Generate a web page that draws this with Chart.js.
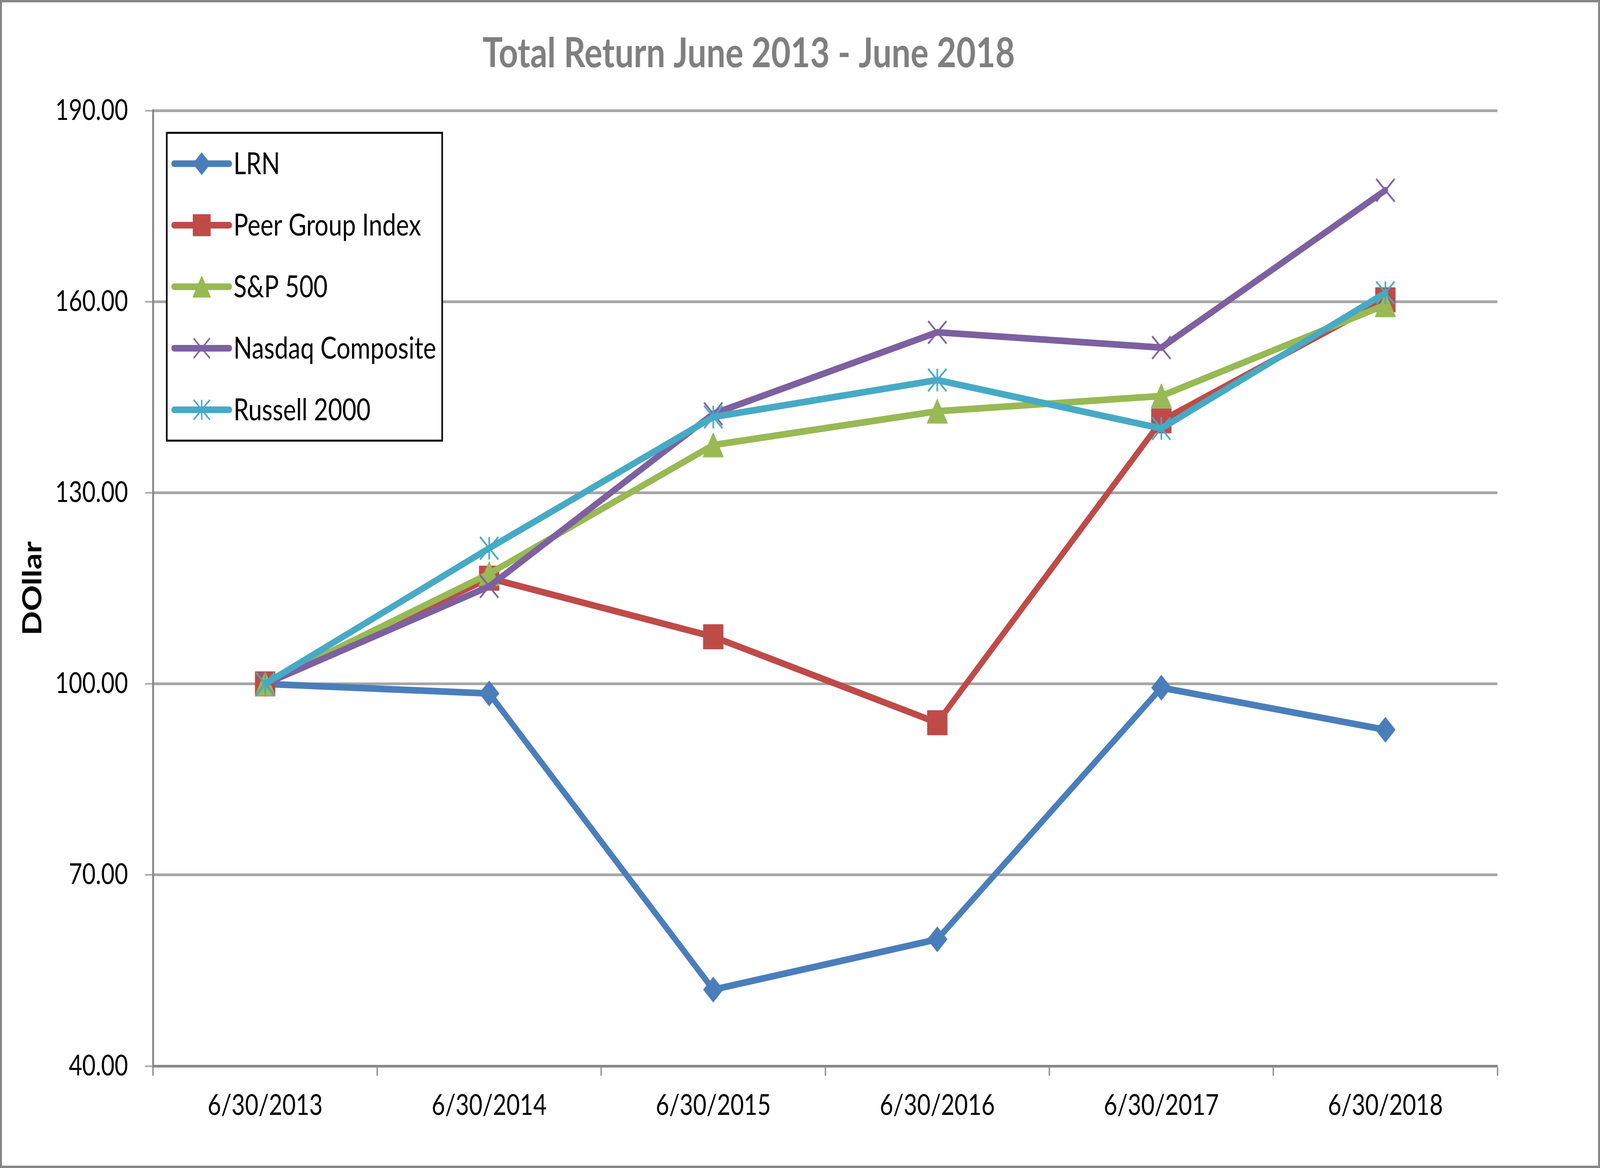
<!DOCTYPE html>
<html>
<head>
<meta charset="utf-8">
<title>Total Return June 2013 - June 2018</title>
<script src="https://cdn.jsdelivr.net/npm/chart.js@4/dist/chart.umd.min.js"></script>
<style>
  html, body { margin: 0; padding: 0; background: #fff; overflow: hidden; }
  #returnChart { transform-origin: 0 0; display: block; }
</style>
</head>
<body>
<canvas id="returnChart" width="5037" height="2990"></canvas>
<script>
// values
const dates = ['6/30/2013', '6/30/2014', '6/30/2015', '6/30/2016', '6/30/2017', '6/30/2018'];
const seriesNames = ['LRN', 'Peer Group Index', 'S&P 500', 'Nasdaq Composite', 'Russell 2000'];
const lrn = [100, 98.5, 52.0, 59.9, 99.4, 92.8];
const peerGroup = [100, 116.6, 107.4, 93.9, 141.3, 160.3];
const sp500 = [100, 117.3, 137.5, 142.8, 145.2, 159.5];
const nasdaq = [100, 115.3, 142.4, 155.2, 152.8, 177.5];
const russell2000 = [100, 121.3, 141.9, 147.7, 140.1, 161.4];
const yTicks = [40, 70, 100, 130, 160, 190];

const FONT = 'Lato';
const W = 5037, H = 2990;
const colors = ['#4a7ebb', '#be4b48', '#98b954', '#7d60a0', '#46aac5'];
const markerKinds = ['diamond', 'square', 'triangle', 'cross', 'asterisk'];
const allSeries = [lrn, peerGroup, sp500, nasdaq, russell2000];

// the window is narrower than the chart, so squeeze the whole canvas to fit it
const canvas = document.getElementById('returnChart');
canvas.style.transform = 'scale(' + (window.innerWidth / W) + ',' + (window.innerHeight / H) + ')';

// Excel style markers drawn once into small canvases
function markerImage(kind, color, k) {
    const size = Math.ceil(74 * k);
    const c = document.createElement('canvas');
    c.width = size;
    c.height = size;
    const g = c.getContext('2d');
    g.translate(size / 2, size / 2);
    g.scale(k, k);
    g.fillStyle = color;
    g.strokeStyle = color;
    g.lineJoin = 'round';
    g.lineWidth = 3;
    g.beginPath();
    if (kind === 'diamond') {
        g.moveTo(0, -31); g.lineTo(30, 0); g.lineTo(0, 31); g.lineTo(-30, 0);
        g.closePath(); g.fill(); g.stroke();
    } else if (kind === 'square') {
        g.rect(-30.5, -30.5, 61, 61);
        g.fill(); g.stroke();
    } else if (kind === 'triangle') {
        g.moveTo(0, -30); g.lineTo(31, 30); g.lineTo(-31, 30);
        g.closePath(); g.fill(); g.stroke();
    } else {
        g.lineWidth = 5;
        g.moveTo(-29, -29); g.lineTo(29, 29);
        g.moveTo(29, -29); g.lineTo(-29, 29);
        if (kind === 'asterisk') {
            g.moveTo(0, -29); g.lineTo(0, 29);
        }
        g.stroke();
    }
    return c;
}

const pointImages = markerKinds.map((k, i) => markerImage(k, colors[i], 1));
const legendImages = markerKinds.map((k, i) => markerImage(k, colors[i], 0.88));

function makeDataset(i) {
    return {
        label: seriesNames[i],
        data: allSeries[i],
        borderColor: colors[i],
        backgroundColor: colors[i],
        borderWidth: 17,
        borderJoinStyle: 'round',
        borderCapStyle: 'round',
        pointStyle: pointImages[i],
        pointRadius: 30,
        tension: 0,
        order: seriesNames.length - i // later series sit on top, like Excel
    };
}

// legend in a black box inside the plot, line + marker like Excel
const boxedLegend = {
    id: 'boxedLegend',
    afterDraw(chart) {
        const ctx = chart.ctx;
        ctx.save();
        ctx.fillStyle = '#fff';
        ctx.fillRect(525, 340, 867, 788);
        ctx.lineWidth = 5;
        ctx.strokeStyle = '#000';
        ctx.strokeRect(525, 340, 867, 788);

        seriesNames.forEach((name, i) => {
            const y = 419 + i * 157.5;
            ctx.beginPath();
            ctx.lineCap = 'round';
            ctx.lineWidth = 17;
            ctx.strokeStyle = colors[i];
            ctx.moveTo(548, y);
            ctx.lineTo(722, y);
            ctx.stroke();

            const img = legendImages[i];
            ctx.drawImage(img, 635 - img.width / 2, y - img.height / 2);

            ctx.fillStyle = '#000';
            ctx.font = '77px ' + FONT;
            ctx.textBaseline = 'middle';
            ctx.textAlign = 'left';
            ctx.fillText(name, 735, y + 2);
        });
        ctx.restore();
    }
};

// gray frame around the whole chart
const outerFrame = {
    id: 'outerFrame',
    afterDraw(chart) {
        const ctx = chart.ctx;
        ctx.save();
        ctx.lineWidth = 6;
        ctx.strokeStyle = '#868686';
        ctx.strokeRect(3, 3, chart.width - 6, chart.height - 6);
        ctx.restore();
    }
};

const returnChart = new Chart(canvas.getContext('2d'), {
    type: 'line',
    data: {
        labels: dates,
        datasets: seriesNames.map((n, i) => makeDataset(i))
    },
    options: {
        responsive: false,
        devicePixelRatio: 1,
        animation: false,
        events: [],
        layout: { padding: { left: 0, right: 323, top: 0, bottom: 0 } },
        plugins: {
            legend: { display: false },
            tooltip: { enabled: false },
            title: {
                display: true,
                text: 'Total Return June 2013 - June 2018',
                color: '#7f7f7f',
                font: { family: FONT, size: 106, weight: 'bold' },
                padding: { top: 74, bottom: 82 }
            }
        },
        scales: {
            x: {
                type: 'category',
                offset: true,
                grid: {
                    offset: true,
                    drawOnChartArea: false,
                    drawTicks: true,
                    tickLength: 25,
                    color: '#868686',
                    tickWidth: 4
                },
                border: { color: '#868686', width: 6 },
                ticks: {
                    font: { family: FONT, size: 73 },
                    color: '#000',
                    padding: 33,
                    maxRotation: 0,
                    autoSkip: false
                },
                afterFit(scale) { scale.height = 261; }
            },
            y: {
                min: 40,
                max: 190,
                grid: {
                    color: '#a6a6a6',
                    lineWidth: 7,
                    tickLength: 25,
                    tickWidth: 4
                },
                border: { color: '#868686', width: 6 },
                ticks: {
                    font: { family: FONT, size: 73 },
                    color: '#000',
                    padding: 54,
                    callback: v => v.toFixed(2)
                },
                afterBuildTicks(scale) {
                    scale.ticks = yTicks.map(v => ({ value: v }));
                },
                title: {
                    display: true,
                    text: 'DOllar',
                    color: '#000',
                    font: { family: FONT, size: 82, weight: 'bold' },
                    padding: { top: 54, bottom: 0 }
                },
                afterFit(scale) { scale.width = 482; }
            }
        }
    },
    plugins: [boxedLegend, outerFrame]
});
</script>
</body>
</html>
